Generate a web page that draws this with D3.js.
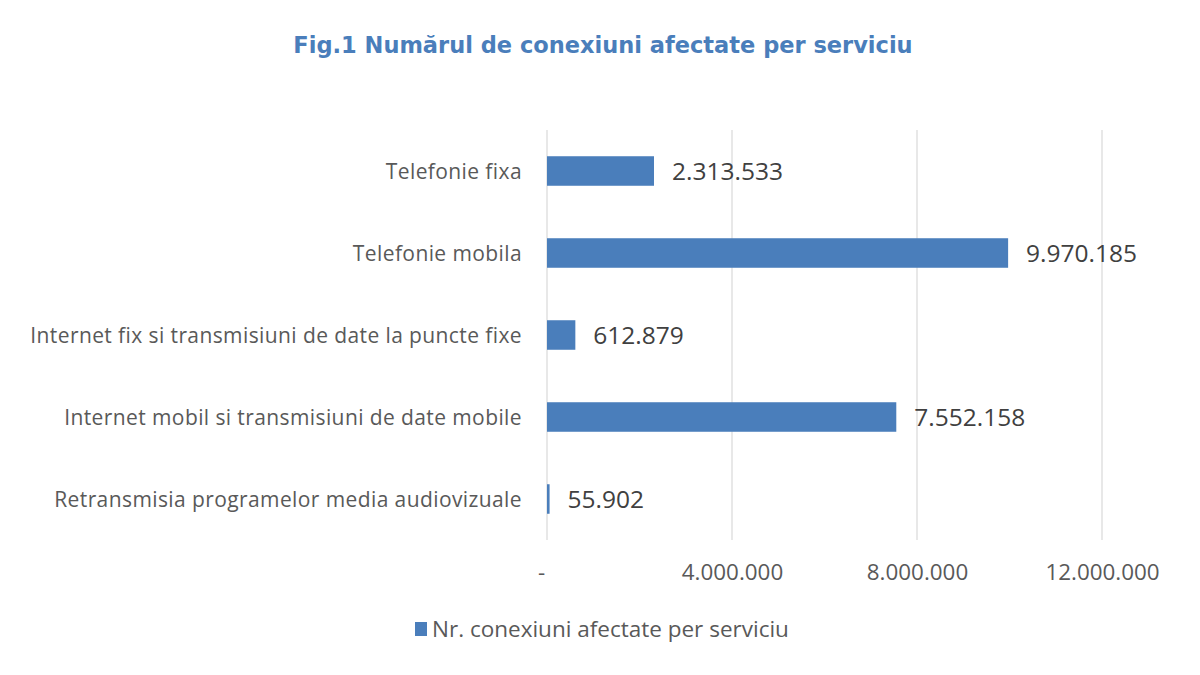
<!DOCTYPE html>
<meta charset="utf-8">
<style>
body { margin: 0; background: #fff; }
svg { display: block; }
.cat { font: 21px "Open Sans", sans-serif; letter-spacing: 0.4px; fill: #595959; }
.val { font: 24.5px "Open Sans", sans-serif; fill: #404040; }
.tick text { font: 22.4px "Open Sans", sans-serif; fill: #595959; }
.title { font: bold 22.5px "DejaVu Sans", Verdana, sans-serif; fill: #4a7ebb; }
.legend { font: 22.5px "Open Sans", sans-serif; fill: #595959; }
</style>
<body>
<div id="chart"></div>
<script src="https://cdn.jsdelivr.net/npm/d3@7"></script>
<script>

var categories = ["Telefonie fixa", "Telefonie mobila",
  "Internet fix si transmisiuni de date la puncte fixe",
  "Internet mobil si transmisiuni de date mobile",
  "Retransmisia programelor media audiovizuale"];
var values = [2313533, 9970185, 612879, 7552158, 55902];
var tickValues = [0, 4000000, 8000000, 12000000];
var seriesName = "Nr. conexiuni afectate per serviciu";
var title = "Fig.1 Numărul de conexiuni afectate per serviciu";

var width = 1200, height = 675;
var margin = {top: 130, right: 98, bottom: 135, left: 547};

var svg = d3.select("#chart").append("svg")
  .attr("width", width)
  .attr("height", height);

var x = d3.scaleLinear()
  .domain([0, 12000000])
  .range([margin.left, width - margin.right]);

var y = d3.scaleBand()
  .domain(categories)
  .range([margin.top, height - margin.bottom])
  .paddingInner(0.64)
  .paddingOuter(0.32);

// romanian style thousands separator
var fmt = d3.formatLocale({decimal: ",", thousands: ".", grouping: [3], currency: ["", " lei"]}).format(",d");

// gridlines
svg.append("g")
  .selectAll("line")
  .data(tickValues)
  .join("line")
  .attr("x1", d => x(d)).attr("x2", d => x(d))
  .attr("y1", margin.top).attr("y2", height - margin.bottom)
  .attr("stroke", "#d9d9d9")
  .attr("stroke-width", 1.2);

// x axis labels
var xAxis = svg.append("g")
  .attr("transform", "translate(0," + (height - margin.bottom) + ")")
  .call(d3.axisBottom(x)
    .tickValues(tickValues)
    .tickSize(0)
    .tickPadding(24)
    .tickFormat(d => d === 0 ? "-" : fmt(d)));
xAxis.select(".domain").remove();
xAxis.selectAll(".tick").filter(d => d === 0).select("text").attr("dx", -6);

// bars
svg.append("g")
  .selectAll("rect")
  .data(values)
  .join("rect")
  .attr("x", x(0))
  .attr("y", (d, i) => y(categories[i]))
  .attr("width", d => x(d) - x(0))
  .attr("height", y.bandwidth())
  .attr("fill", "#4a7ebb");

// value labels
svg.append("g")
  .selectAll("text")
  .data(values)
  .join("text")
  .attr("class", "val")
  .attr("x", d => x(d) + 18)
  .attr("y", (d, i) => y(categories[i]) + y.bandwidth() / 2)
  .attr("dy", "0.36em")
  .text(d => fmt(d));

// category labels
svg.append("g")
  .selectAll("text")
  .data(categories)
  .join("text")
  .attr("class", "cat")
  .attr("x", margin.left - 25)
  .attr("y", d => y(d) + y.bandwidth() / 2)
  .attr("dy", "0.36em")
  .attr("text-anchor", "end")
  .text(d => d);

// title
svg.append("text")
  .attr("class", "title")
  .attr("x", 603)
  .attr("y", 53)
  .attr("text-anchor", "middle")
  .text(title);

// legend
var lg = svg.append("g").attr("transform", "translate(415,622)");
lg.append("rect").attr("width", 12).attr("height", 14).attr("fill", "#4a7ebb");
lg.append("text").attr("class", "legend")
  .attr("x", 17).attr("y", 7).attr("dy", "0.36em")
  .text(seriesName);

</script>
</body>
